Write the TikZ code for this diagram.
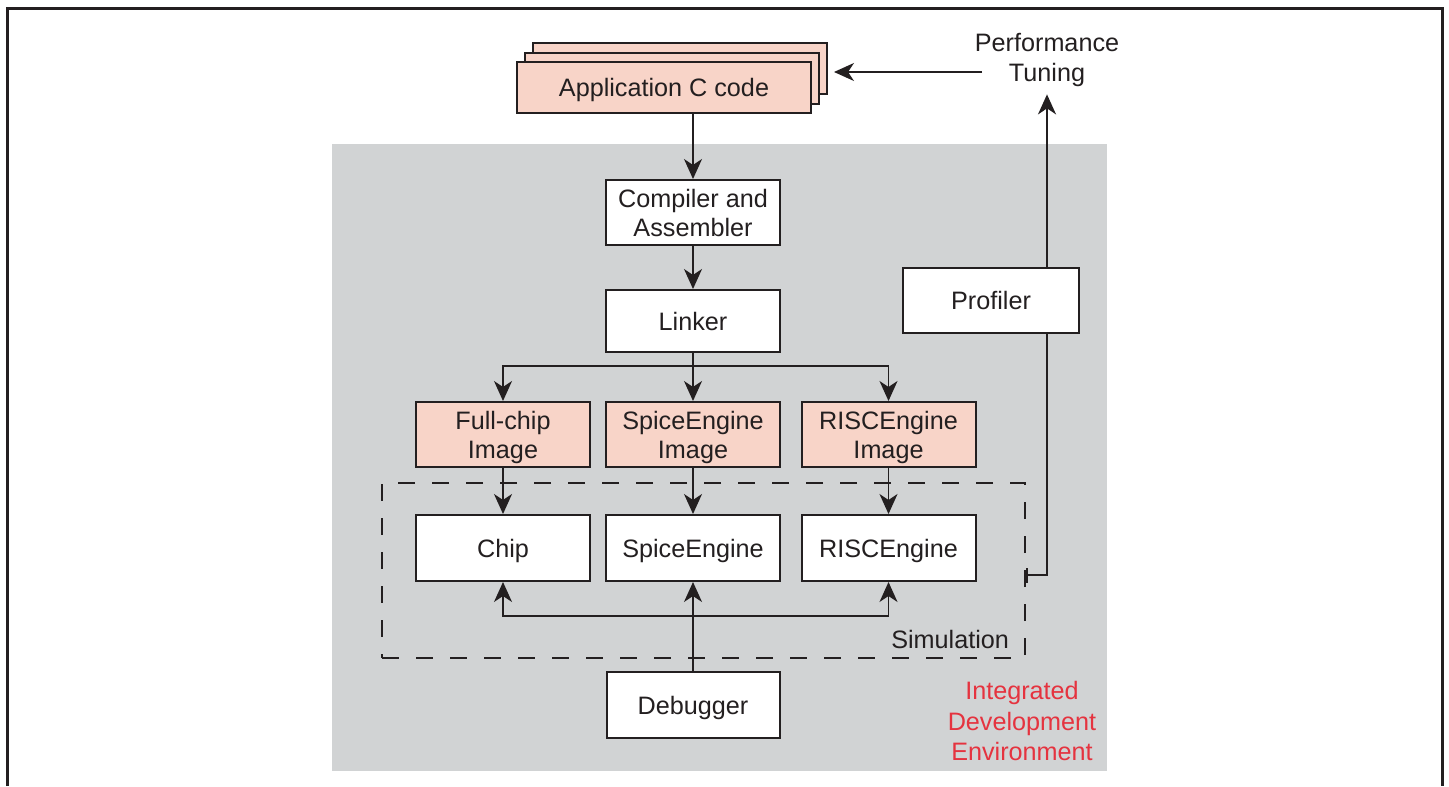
\documentclass[tikz,border=0pt]{standalone}
\usepackage{fontspec}
\setmainfont{Liberation Sans}
\usetikzlibrary{arrows.meta,calc}
\definecolor{idegray}{HTML}{D1D3D4}
\definecolor{pinkfill}{HTML}{F8D4C8}
\definecolor{inkc}{HTML}{231F20}
\definecolor{idered}{HTML}{E5333F}
\begin{document}
\begin{tikzpicture}[x=0.5pt,y=-0.5pt,
  every node/.style={font=\fontsize{12.6}{14.5}\selectfont, text=inkc},
  wbox/.style={draw=inkc, line width=1pt, fill=white, minimum width=87pt, minimum height=32.5pt, align=center, inner sep=2pt, text depth=0pt},
  pbox/.style={wbox, fill=pinkfill},
  freetxt/.style={align=center, font=\fontsize{12.6}{15.25}\selectfont},
  conn/.style={draw=inkc, line width=0.9pt},
  arr/.style={conn, -{Stealth[length=10pt,width=9pt,inset=3pt]}},
  darr/.style={conn, {Stealth[length=10pt,width=9pt,inset=3pt]}-{Stealth[length=10pt,width=9pt,inset=3pt]}},
  dashbox/.style={draw=inkc, line width=1pt, dash pattern=on 8.5pt off 8.5pt, minimum width=321.5pt, minimum height=87.5pt, inner sep=0pt}
]
\useasboundingbox (0,0) rectangle (1449,786);
% outer frame
\draw[inkc, line width=1.5pt] (7.5,786) -- (7.5,9) -- (1442,9) -- (1442,786);
% IDE background
\fill[idegray] (332,144) rectangle (1107,771);

% application code stack
\node[pbox, minimum width=147pt, minimum height=25.5pt] (app0) at (680,69) {};
\node[pbox, minimum width=147pt, minimum height=25.5pt] (app1) at (672,79) {};
\node[pbox, minimum width=147pt, minimum height=25.5pt] (app) at (664,87.5) {Application C code};

\node[wbox] (comp) at (693,212.5) {Compiler and\\Assembler};
\node[wbox, minimum height=31pt] (link) at (693,321) {Linker};
\node[wbox, minimum width=88pt] (prof) at (991,300.5) {Profiler};

\node[pbox] (img1) at (503,434.5) {Full-chip\\Image};
\node[pbox] (img2) at (693,434.5) {SpiceEngine\\Image};
\node[pbox] (img3) at (888.5,434.5) {RISCEngine\\Image};

\node[dashbox] (sim) at (703.5,570.5) {};

\node[wbox, minimum height=33pt] (chip) at (503,548) {Chip};
\node[wbox, minimum height=33pt] (spice) at (693,548) {SpiceEngine};
\node[wbox, minimum height=33pt] (risc) at (888.5,548) {RISCEngine};

\node[wbox, minimum width=86.5pt, minimum height=33pt] (dbg) at (693,705) {Debugger};

\node[anchor=east] (simlbl) at (1016,639) {Simulation};
\node[freetxt, text=idered, inner sep=0pt] (ide) at (1022,721) {Integrated\\Development\\Environment};
\node[freetxt, inner sep=3.5pt] (perf) at (1047,60) {Performance\\Tuning};

% coordinates
\coordinate (pfl) at (982,72);
\coordinate (bt) at (693,366);
\coordinate (bb) at (693,616);

% connectors
\draw[arr] (app.south -| comp.north) -- (comp.north);
\draw[arr] (comp.south) -- (link.north);
\draw[arr] (link.south) -- (img2.north);
\draw[darr] (img1.north) |- (bt) -| (img3.north);
\draw[arr] (img1.south) -- (chip.north);
\draw[arr] (img2.south) -- (spice.north);
\draw[arr] (img3.south) -- (risc.north);
\draw[darr] (chip.south) |- (bb) -| (risc.south);
\draw[arr] (dbg.north) -- (spice.south);
\draw[arr] (prof.north -| perf.south) -- (perf.south);
\draw[arr, shorten >=3pt] (pfl) -- (pfl -| app0.east);
\draw[conn, -{Bar[width=7.5pt]}] (prof.south -| perf.south) |- ($(sim.east)+(0,4.5)$);
\end{tikzpicture}
\end{document}
